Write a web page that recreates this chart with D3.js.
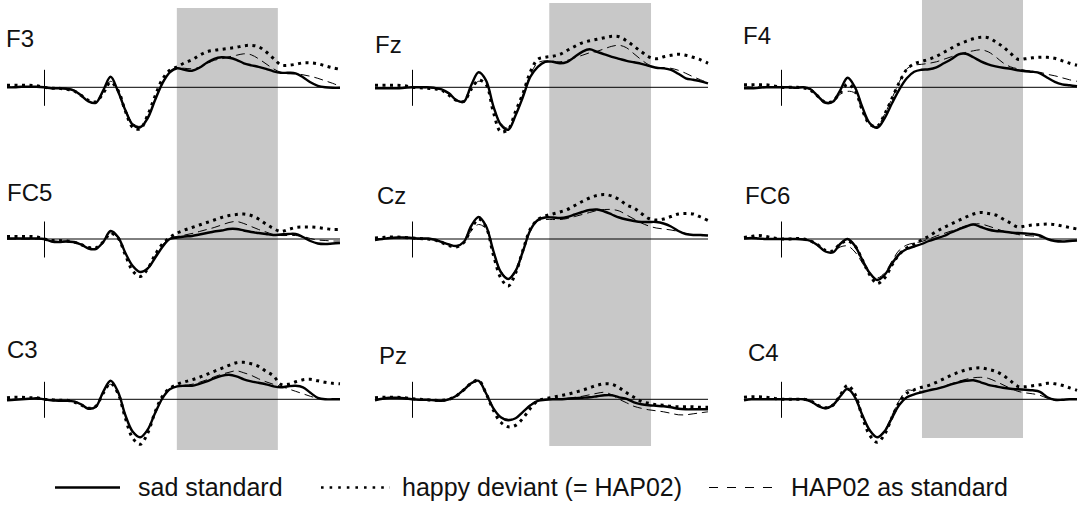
<!DOCTYPE html>
<html>
<head>
<meta charset="utf-8">
<script src="https://cdn.jsdelivr.net/npm/d3@7"></script>
<style>
  html, body { margin: 0; padding: 0; background: #fff; }
  svg { display: block; }
  text { font-family: "Liberation Sans", Arial, Helvetica, sans-serif; fill: #111; }
</style>
</head>
<body>
<svg id="chart" width="1078" height="505"></svg>
<script>
// Sample times (ms relative to stimulus onset)
const times = [-100,-80,-60,-40,-20,0,20,40,60,80,100,120,140,160,180,200,220,240,260,280,300,
  320,340,360,380,400,420,440,460,480,500,520,540,560,580,600,620,640,660,680,700,720,740,760,780,800];

// Electrodes, in reading order (3 x 3)
const channels = ["F3","Fz","F4","FC5","Cz","FC6","C3","Pz","C4"];

// Condition names
const conditions = ["sad standard", "happy deviant (= HAP02)", "HAP02 as standard"];

// Grand-average amplitudes (µV), one array per electrode and condition
const F3_sad   = [0,0,0.05,0.05,0.05,0,-0.1,-0.1,-0.15,-0.3,-0.8,-1.4,-1.55,-0.3,1.05,-0.4,-2.3,-3.75,-4.0,-3.1,-1.3,0.4,1.5,1.9,1.75,1.65,1.95,2.45,2.85,3.0,2.95,2.75,2.4,2.2,2.05,1.85,1.6,1.45,1.45,1.4,1.0,0.5,0.15,0,-0.05,-0.05];
const F3_happy = [0.2,0.2,0.2,0.2,0.15,0,-0.1,-0.1,-0.2,-0.35,-0.8,-1.3,-1.45,-0.6,0.5,-0.3,-2.4,-4.0,-4.15,-2.8,-0.9,0.8,1.7,2.05,2.45,2.75,3.2,3.55,3.7,3.8,3.9,4.0,4.15,4.2,4.05,3.55,2.9,2.25,2.2,2.3,2.45,2.45,2.35,2.15,1.95,1.8];
const F3_hap   = [0,0,0,0,0,0,-0.1,-0.1,-0.1,-0.3,-0.8,-1.4,-1.5,-0.5,0.6,-0.3,-2.2,-3.6,-3.9,-3.0,-1.2,0.5,1.65,1.9,1.9,1.85,2.0,2.35,2.7,2.85,3.05,3.2,3.35,3.25,2.85,2.35,1.85,1.5,1.35,1.35,1.25,1.1,0.9,0.65,0.4,0.1];

const Fz_sad   = [-0.1,-0.1,-0.1,-0.1,-0.05,0,0,0,-0.05,-0.2,-0.6,-1.3,-1.45,0.2,1.5,0.7,-1.9,-3.75,-4.25,-2.8,-0.95,1.05,2.05,2.55,2.55,2.4,2.55,3.05,3.55,3.8,3.55,3.3,3.05,2.85,2.65,2.5,2.35,2.15,1.95,1.9,1.75,1.35,0.9,0.75,0.6,0.4];
const Fz_happy = [0.2,0.2,0.2,0.2,0.15,0,-0.05,-0.1,-0.15,-0.3,-0.8,-1.3,-1.4,-0.2,0.7,0.3,-2.5,-4.45,-4.2,-2.4,-0.6,1.55,2.8,3.0,3.1,3.3,3.7,4.1,4.45,4.65,4.8,4.95,5.1,5.05,4.65,4.1,3.55,3.05,2.85,3.05,3.2,3.3,3.2,3.0,2.75,2.4];
const Fz_hap   = [0,-0.05,-0.05,-0.05,0,0,0,-0.05,-0.1,-0.3,-0.7,-1.25,-1.4,-0.1,0.6,0.4,-1.9,-3.6,-4.1,-2.7,-0.7,1.3,2.45,2.65,2.6,2.55,2.7,2.95,3.2,3.45,3.6,3.85,4.1,4.2,3.95,3.35,2.75,2.25,2.0,1.95,1.9,1.7,1.4,1.05,0.75,0.45];

const F4_sad   = [-0.1,-0.1,-0.05,0,0,0,0,-0.05,0,-0.2,-0.9,-1.55,-1.45,-0.3,0.95,0.0,-2.0,-3.6,-4.05,-3.1,-1.6,-0.2,0.9,1.55,1.75,1.8,2.0,2.4,2.8,3.3,3.35,3.0,2.6,2.3,2.1,1.95,1.85,1.7,1.6,1.55,1.4,0.95,0.55,0.3,0.2,0.1];
const F4_happy = [0.25,0.25,0.25,0.25,0.15,0,0,0,-0.05,-0.3,-0.9,-1.5,-1.4,-0.5,0.3,-0.3,-2.3,-3.7,-3.9,-2.7,-1.1,0.5,1.8,2.35,2.6,2.8,3.1,3.5,3.9,4.3,4.6,4.85,5.0,4.95,4.55,4.05,3.4,2.8,2.85,2.95,3.0,3.0,2.9,2.65,2.4,2.2];
const F4_hap   = [0.05,0.05,0.05,0.05,0.05,0,0,0,0,-0.25,-0.85,-1.45,-1.4,-0.7,-0.4,-0.6,-2.4,-3.7,-3.9,-2.7,-1.1,0.55,1.85,2.2,2.3,2.4,2.55,2.8,3.05,3.3,3.5,3.65,3.75,3.55,3.05,2.45,2.05,1.85,1.7,1.6,1.5,1.3,1.15,0.95,0.75,0.6];

const FC5_sad   = [0.05,0.05,0.05,0.05,0.05,0,-0.25,-0.3,-0.25,-0.3,-0.55,-0.95,-1.0,-0.3,0.8,0.2,-1.4,-2.7,-3.3,-2.95,-1.9,-0.8,0.0,0.15,0.25,0.3,0.45,0.6,0.75,0.85,1.0,1.0,0.85,0.7,0.6,0.5,0.4,0.45,0.5,0.5,0.2,-0.2,-0.45,-0.5,-0.45,-0.4];
const FC5_happy = [0.25,0.25,0.25,0.25,0.2,0,-0.15,-0.15,-0.2,-0.3,-0.55,-0.85,-0.9,-0.3,0.55,0.1,-1.6,-3.2,-3.75,-3.0,-1.6,-0.5,0.15,0.6,0.9,1.15,1.4,1.65,1.9,2.15,2.35,2.45,2.5,2.35,2.0,1.5,1.05,0.75,0.95,1.15,1.2,1.2,1.15,1.05,0.95,0.95];
const FC5_hap   = [0,0,0,0,0,0,-0.2,-0.25,-0.2,-0.3,-0.5,-0.85,-0.95,-0.3,0.6,0.1,-1.4,-2.8,-3.3,-2.9,-1.7,-0.6,0.1,0.25,0.4,0.55,0.75,0.95,1.15,1.4,1.65,1.75,1.55,1.25,0.95,0.7,0.45,0.35,0.35,0.35,0.25,0.05,-0.1,-0.15,-0.2,-0.2];

const Cz_sad   = [-0.1,0,0.1,0.15,0.15,0.1,0.05,0.05,-0.05,-0.3,-0.55,-0.7,-0.3,1.3,2.2,1.3,-1.2,-3.3,-4.0,-3.2,-1.2,0.9,1.9,2.15,2.15,2.1,2.2,2.45,2.7,2.9,2.95,2.75,2.45,2.15,1.95,1.8,1.7,1.7,1.7,1.55,1.25,0.8,0.5,0.4,0.4,0.35];
const Cz_happy = [0.1,0.15,0.2,0.2,0.15,0.1,0.05,0,-0.1,-0.35,-0.65,-0.8,-0.35,1.0,2.0,1.2,-1.6,-3.9,-4.7,-3.4,-1.1,1.0,1.95,2.3,2.5,2.7,2.95,3.35,3.75,4.1,4.35,4.45,4.3,3.95,3.4,3.1,2.55,2.05,1.9,2.0,2.25,2.5,2.55,2.5,2.2,1.85];
const Cz_hap   = [0,0.05,0.1,0.1,0.1,0.05,0,0,-0.1,-0.3,-0.55,-0.7,-0.3,0.8,1.45,1.0,-1.2,-3.2,-3.9,-3.1,-1.2,0.8,1.8,1.95,1.95,1.95,2.05,2.25,2.45,2.65,2.85,2.95,2.95,2.8,2.4,2.0,1.6,1.3,1.1,1.0,0.9,0.75,0.55,0.4,0.35,0.3];

const FC6_sad   = [0.05,0.1,0.05,0,0,0,0,0,-0.05,-0.2,-0.65,-1.25,-1.35,-0.5,0,-0.7,-2.1,-3.4,-4.1,-3.6,-2.45,-1.5,-1.0,-0.75,-0.5,-0.2,0.05,0.3,0.65,0.95,1.25,1.45,1.2,0.95,0.8,0.75,0.65,0.6,0.55,0.5,0.35,0.0,-0.2,-0.25,-0.2,-0.15];
const FC6_happy = [0.15,0.25,0.35,0.25,0.1,0,0,0.05,0,-0.2,-0.6,-1.15,-1.2,-0.5,-0.2,-0.7,-2.1,-3.6,-4.45,-3.9,-2.6,-1.5,-0.9,-0.5,-0.1,0.3,0.75,1.15,1.5,1.85,2.2,2.5,2.65,2.55,2.4,2.0,1.6,1.2,1.3,1.4,1.45,1.5,1.45,1.3,1.15,1.0];
const FC6_hap   = [0.05,0.05,0.05,0,0,0,0,0,0,-0.2,-0.65,-1.2,-1.3,-0.8,-0.7,-1.3,-2.4,-3.5,-3.9,-3.4,-2.2,-1.1,-0.6,-0.4,-0.25,0.0,0.3,0.55,0.8,1.05,1.3,1.5,1.5,1.3,1.05,0.8,0.6,0.45,0.35,0.3,0.2,0.0,-0.15,-0.2,-0.2,-0.15];

const C3_sad   = [-0.1,-0.05,0,0.05,0.1,0,-0.1,-0.15,-0.15,-0.2,-0.5,-0.95,-0.75,0.75,1.85,0.75,-1.6,-3.25,-3.8,-3.05,-1.4,0.1,1.0,1.3,1.35,1.35,1.55,1.8,2.1,2.35,2.45,2.3,2.0,1.8,1.65,1.5,1.3,1.2,1.3,1.35,1.2,0.65,0.15,0,0,0];
const C3_happy = [0.15,0.2,0.2,0.15,0.15,0,-0.05,-0.1,-0.1,-0.25,-0.55,-0.9,-0.7,0.6,1.6,0.6,-1.9,-3.9,-4.5,-3.4,-1.3,0.3,1.1,1.5,1.75,1.95,2.2,2.5,2.8,3.1,3.4,3.65,3.7,3.55,3.3,2.8,2.35,1.5,1.5,1.75,1.95,2.0,1.85,1.7,1.6,1.55];
const C3_hap   = [-0.05,0,0.05,0.05,0.05,0,-0.1,-0.15,-0.15,-0.2,-0.5,-0.85,-0.7,0.6,1.5,0.6,-1.6,-3.2,-3.7,-3.0,-1.4,0.1,1.05,1.3,1.4,1.5,1.7,1.95,2.25,2.5,2.7,2.85,2.65,2.4,2.05,1.75,1.5,1.3,1.05,0.8,0.55,0.3,0.1,0,0,0];

const Pz_sad   = [-0.1,0.05,0.15,0.15,0.1,0,-0.05,-0.05,-0.1,-0.15,0,0.35,0.95,1.6,1.85,0.6,-0.9,-1.8,-2.1,-1.9,-1.25,-0.6,-0.15,-0.05,0,0,0.05,0.1,0.15,0.2,0.3,0.4,0.4,0.2,0.05,-0.3,-0.5,-0.6,-0.65,-0.7,-0.8,-0.95,-1.0,-1.0,-1.0,-1.0];
const Pz_happy = [0.15,0.2,0.2,0.2,0.15,0.05,0,-0.05,-0.1,-0.1,0,0.35,0.95,1.6,1.9,0.6,-1.1,-2.3,-2.75,-2.6,-1.9,-0.9,-0.15,0.05,0.2,0.35,0.5,0.7,0.9,1.15,1.4,1.55,1.5,1.15,0.65,0.2,-0.2,-0.4,-0.55,-0.6,-0.7,-0.75,-0.75,-0.75,-0.8,-0.8];
const Pz_hap   = [-0.05,0.05,0.1,0.1,0.05,0,-0.05,-0.05,-0.1,-0.1,0.05,0.4,1.0,1.55,1.75,0.6,-0.9,-1.75,-2.0,-1.85,-1.2,-0.55,-0.1,0,0,0.05,0.1,0.2,0.3,0.45,0.6,0.7,0.45,0.0,-0.35,-0.7,-0.9,-1.05,-1.15,-1.25,-1.4,-1.55,-1.55,-1.45,-1.35,-1.25];

const C4_sad   = [-0.1,0,0,0,0,0,0,0,0,-0.2,-0.65,-0.9,-0.6,0.3,1.05,0.2,-1.6,-3.1,-3.8,-3.2,-1.85,-0.55,0.2,0.5,0.7,0.9,1.05,1.25,1.5,1.7,1.85,1.9,1.7,1.45,1.3,1.15,1.05,1.0,0.95,0.9,0.75,0.2,-0.05,-0.05,0,0];
const C4_happy = [0.2,0.25,0.25,0.2,0.1,0,0,0,0,-0.15,-0.6,-0.85,-0.6,0.4,1.4,0.5,-1.8,-3.6,-4.3,-3.5,-1.8,-0.3,0.6,0.95,1.2,1.4,1.7,2.05,2.4,2.7,2.95,3.1,3.15,3.0,2.8,2.4,1.85,1.3,1.25,1.35,1.45,1.6,1.55,1.4,1.15,0.9];
const C4_hap   = [-0.05,0,0,0,0,0,0,0,0,-0.2,-0.6,-0.85,-0.55,0.25,0.9,0.3,-1.6,-3.2,-3.75,-3.1,-1.6,-0.1,0.9,0.85,0.8,0.9,1.05,1.3,1.55,1.8,2.0,2.15,2.2,2.1,1.8,1.45,1.1,0.8,0.65,0.55,0.4,0.1,-0.1,-0.1,0,0];

// Analysis window (ms) marked in each column of panels
const windowStart = [359, 371, 381];
const windowEnd   = [632, 646, 654];

// Amplitude span of the onset marker (µV)
const markerSpan = [-1.8, 1.8];

const waves = {
  F3: [F3_sad, F3_happy, F3_hap],
  Fz: [Fz_sad, Fz_happy, Fz_hap],
  F4: [F4_sad, F4_happy, F4_hap],
  FC5: [FC5_sad, FC5_happy, FC5_hap],
  Cz: [Cz_sad, Cz_happy, Cz_hap],
  FC6: [FC6_sad, FC6_happy, FC6_hap],
  C3: [C3_sad, C3_happy, C3_hap],
  Pz: [Pz_sad, Pz_happy, Pz_hap],
  C4: [C4_sad, C4_happy, C4_hap]
};

// ---- layout ----
const colX = [7, 375, 744];
const panelW = 333;
const rowBase = [87.3, 239, 399.3];
const pxPerUV = 10;
const shadeTop = [8, 3, 0];
const shadeBottom = [450, 446, 438];
const labelPos = {
  F3: [6, 47], Fz: [375, 53], F4: [743, 44],
  FC5: [7, 201], Cz: [377, 204], FC6: [745, 204],
  C3: [7, 358], Pz: [379, 364], C4: [748, 361]
};

const lineStyles = [
  { width: 2.4, dash: null },
  { width: 3, dash: "3,4.5" },
  { width: 1, dash: "9,5" }
];

const svg = d3.select("#chart");
svg.append("rect").attr("width", 1078).attr("height", 505).attr("fill", "#fff");

const xScales = colX.map(x0 => d3.scaleLinear().domain([-100, 800]).range([x0, x0 + panelW]));
const yScales = rowBase.map(b => d3.scaleLinear().domain([-5, 5]).range([b + 5 * pxPerUV, b - 5 * pxPerUV]));

// shaded windows, one per column spanning all rows
const shadeG = svg.append("g");
[0, 1, 2].forEach(c => {
  const x = xScales[c];
  shadeG.append("rect")
    .attr("x", x(windowStart[c]))
    .attr("y", shadeTop[c])
    .attr("width", x(windowEnd[c]) - x(windowStart[c]))
    .attr("height", shadeBottom[c] - shadeTop[c])
    .attr("fill", "#c8c8c8");
});

channels.forEach((ch, i) => {
  const c = i % 3, r = Math.floor(i / 3);
  const x = xScales[c], y = yScales[r];
  const g = svg.append("g");

  // zero line
  g.append("line")
    .attr("x1", x(times[0])).attr("x2", x(times[times.length - 1]))
    .attr("y1", y(0)).attr("y2", y(0))
    .attr("stroke", "#000").attr("stroke-width", 1);

  // onset marker
  const axisScale = d3.scaleLinear().domain(markerSpan).range([y(markerSpan[0]), y(markerSpan[1])]);
  g.append("g")
    .attr("transform", `translate(${x(0)},0)`)
    .call(d3.axisLeft(axisScale).tickValues([]).tickSizeOuter(0))
    .call(a => a.select(".domain").attr("stroke", "#000").attr("stroke-width", 1));

  const line = d3.line()
    .x((d, k) => x(times[k]))
    .y(d => y(d))
    .curve(d3.curveCatmullRom.alpha(0.5));

  [2, 1, 0].forEach(s => {
    const st = lineStyles[s];
    g.append("path")
      .datum(waves[ch][s])
      .attr("d", line)
      .attr("fill", "none")
      .attr("stroke", "#000")
      .attr("stroke-width", st.width)
      .attr("stroke-dasharray", st.dash)
      .attr("stroke-linejoin", "round");
  });

  g.append("text")
    .attr("x", labelPos[ch][0]).attr("y", labelPos[ch][1])
    .attr("font-size", 24)
    .text(ch);
});

// legend
const legend = svg.append("g");
const legendItems = [
  { x1: 55, x2: 120, tx: 138, style: { width: 2.4, dash: null } },
  { x1: 321, x2: 390, tx: 402, style: { width: 2.6, dash: "2.6,6" } },
  { x1: 709, x2: 774, tx: 791, style: { width: 1.2, dash: "9,9" } }
];
legendItems.forEach((it, k) => {
  legend.append("line")
    .attr("x1", it.x1).attr("x2", it.x2)
    .attr("y1", 487.5).attr("y2", 487.5)
    .attr("stroke", "#000")
    .attr("stroke-width", it.style.width)
    .attr("stroke-dasharray", it.style.dash);
  legend.append("text")
    .attr("x", it.tx).attr("y", 496)
    .attr("font-size", 25)
    .text(conditions[k]);
});
</script>
</body>
</html>
